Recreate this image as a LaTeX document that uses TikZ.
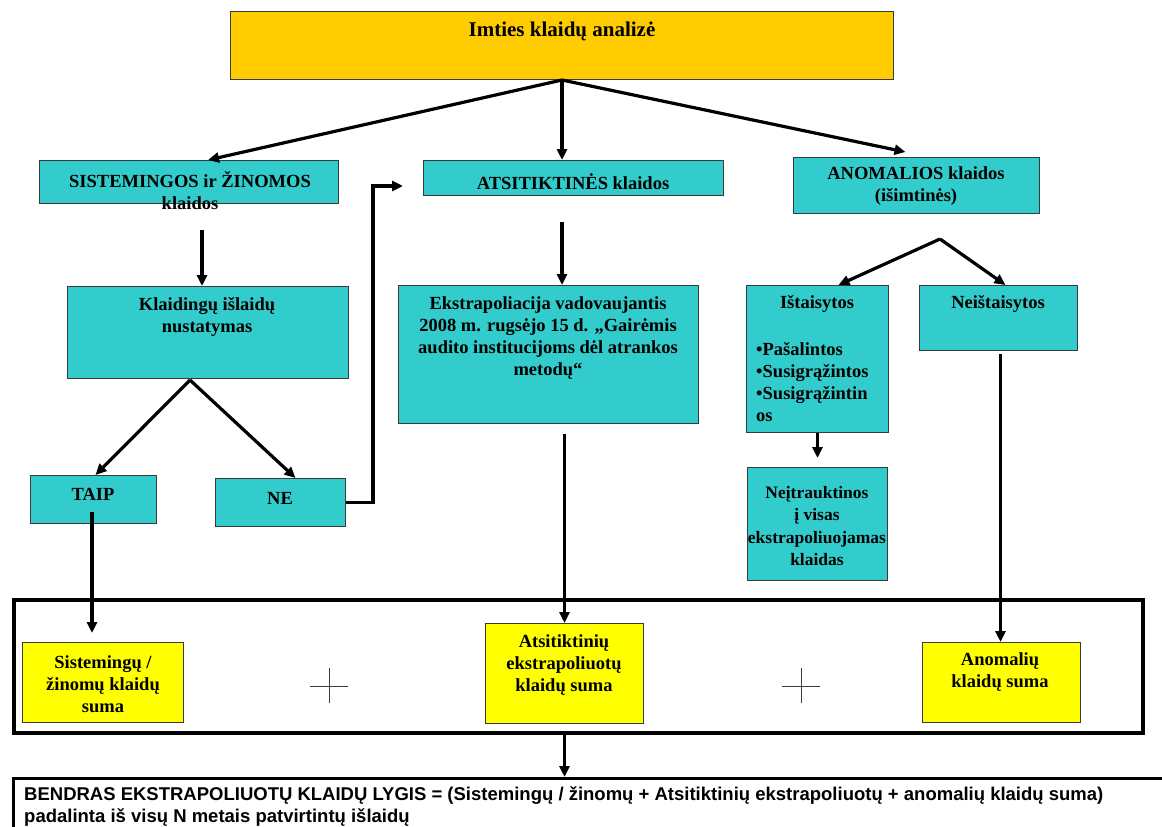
\documentclass[tikz,border=0pt]{standalone}
\usepackage{fontspec}
\setmainfont{Liberation Serif}
\newfontfamily\arialfont{Liberation Sans}
\usetikzlibrary{arrows.meta,calc}
\definecolor{titlefill}{HTML}{FFCC00}
\definecolor{errfill}{HTML}{33CCCC}
\definecolor{sumfill}{HTML}{FFFF00}
\definecolor{edgeline}{HTML}{3A3A3A}
\tikzset{
  wh/.style 2 args={minimum width=#1, minimum height=#2},
  titlebox/.style={draw=edgeline, fill=titlefill, line width=1pt, anchor=north west, inner sep=0pt},
  errbox/.style={draw=edgeline, fill=errfill, line width=1pt, anchor=north west, inner sep=0pt},
  sumbox/.style={draw=edgeline, fill=sumfill, line width=1pt, anchor=north west, inner sep=0pt},
  framebox/.style={draw=black, line width=3.5pt, anchor=north west, inner sep=0pt},
  lbl/.style={font=\bfseries\fontsize{18.5}{22}\selectfont, align=center, inner sep=0pt},
  flow/.style={-{Triangle[length=11pt,width=10pt]}, line width=3.2pt},
  plus/.style={line width=1pt, draw=edgeline},
}

\begin{document}
\begin{tikzpicture}[x=1pt, y=-1pt]
  \useasboundingbox (0,0) rectangle (1162,827);
  % top
  \node[titlebox, wh={663}{68}] (title) at (230,11) {};
  \node[lbl, font=\bfseries\fontsize{21}{25}\selectfont] (titleT) at (562,31) {Imties klaidų analizė};
  % three kinds of errors
  \node[errbox, wh={299}{43}] (sist) at (39,160) {};
  \node[lbl] (sistT) at (190,191) {SISTEMINGOS ir ŽINOMOS\\klaidos};
  \node[errbox, wh={300}{35}] (atsit) at (423,160) {};
  \node[lbl] (atsitT) at (573,182) {ATSITIKTINĖS klaidos};
  \node[errbox, wh={246}{56}] (anom) at (793,157) {};
  \node[lbl] (anomT) at (916,186) {ANOMALIOS klaidos\\(išimtinės)};
  % left branch
  \node[errbox, wh={281}{92}] (klaid) at (67,286) {};
  \node[lbl] (klaidT) at (207,317) {Klaidingų išlaidų\\nustatymas};
  \node[errbox, wh={126}{48}] (taip) at (30,475) {};
  \node[lbl] (taipT) at (93,494) {TAIP};
  \node[errbox, wh={130}{48}] (ne) at (215,478) {};
  \node[lbl] (neT) at (280,498) {NE};
  % middle branch
  \node[errbox, wh={300}{138}] (ekstr) at (398,285) {};
  \node[lbl] (ekstrT) at (548,338) {Ekstrapoliacija vadovaujantis\\2008 m. rugsėjo 15 d. „Gairėmis\\audito institucijoms dėl atrankos\\metodų“};
  % right branch
  \node[errbox, wh={142}{147}] (istais) at (746,285) {};
  \node[lbl] (istaisT) at (817,304) {Ištaisytos};
  \node[lbl, align=left, anchor=west] (istaisL) at (756,382) {•Pašalintos\\•Susigrąžintos\\•Susigrąžintin\\os};
  \node[errbox, wh={158}{65}] (neist) at (919,285) {};
  \node[lbl] (neistT) at (998,304) {Neištaisytos};
  \node[errbox, wh={140}{113}] (neitr) at (747,467) {};
  \node[lbl, font=\bfseries\fontsize{17.5}{22.5}\selectfont] (neitrT) at (817,526) {Neįtrauktinos\\į visas\\ekstrapoliuojamas\\klaidas};
  % sums
  \node[framebox, wh={1129}{133}] (frame) at (12,598) {};
  \node[sumbox, wh={161}{80}] (sumA) at (22,642) {};
  \node[lbl] (sumAT) at (103,684) {Sistemingų /\\žinomų klaidų\\suma};
  \node[sumbox, wh={158}{100}] (sumB) at (485,623) {};
  \node[lbl] (sumBT) at (564,665) {Atsitiktinių\\ekstrapoliuotų\\klaidų suma};
  \node[sumbox, wh={158}{80}] (sumC) at (922,642) {};
  \node[lbl] (sumCT) at (1000,672) {Anomalių\\klaidų suma};
  \draw[plus] (310,686) -- (348,686) (329,668) -- (329,703);
  \draw[plus] (782,686) -- (820,686) (801,668) -- (801,703);
  % total
  \node[draw=black, line width=3pt, anchor=north west, wh={1200}{100}] (total) at (12,777) {};
  \node[font=\arialfont\bfseries\fontsize{18.5}{22}\selectfont, align=left, anchor=north west, inner sep=0pt] (totalT) at (24,786)
    {BENDRAS EKSTRAPOLIUOTŲ KLAIDŲ LYGIS = (Sistemingų / žinomų + Atsitiktinių ekstrapoliuotų + anomalių klaidų suma)\\padalinta iš visų N metais patvirtintų išlaidų};
  % connectors
  \coordinate (sistdown) at (202,230);
  \coordinate (klaidapex) at (190,380);
  \coordinate (taipdown) at (92,512);
  \coordinate (atsdown) at (562,222);
  \coordinate (anomapex) at (940,239);
  \coordinate (nearr) at (403,186);
  \draw[flow] (title.south) -- (sist.north -| klaid.north);
  \draw[flow] (title.south) -- (title.south |- atsit.north);
  \draw[flow] (title.south) -- ($(anom.north)+(-11,-5)$);
  \draw[flow] (sistdown) -- (sistdown |- klaid.north);
  \draw[flow] (klaidapex) -- ($(taip.north)+(2,0)$);
  \draw[flow] (klaidapex) -- ($(ne.north)+(15,0)$);
  \draw[flow] (ne.east) -- ++(27,0) |- (nearr);
  \draw[flow, shorten >=9pt] (taipdown) -- (taipdown |- sumA.north);
  \draw[flow] (atsdown) -- (atsdown |- ekstr.north);
  \draw[flow, shorten <=10pt] (ekstr.south -| sumB.north) -- (sumB.north);
  \draw[flow] (anomapex) -- ($(istais.north)+(21,0)$);
  \draw[flow] (anomapex) -- ($(neist.north)+(7,0)$);
  \draw[flow, shorten >=9pt] (istais.south) -- (istais.south |- neitr.north);
  \draw[flow, shorten <=3pt] ($(neist.south)+(2,0)$) -- ($(neist.south |- sumC.north)+(2,0)$);
  \draw[flow] (sumB.south |- frame.south) -- (sumB.south |- total.north);
\end{tikzpicture}
\end{document}
